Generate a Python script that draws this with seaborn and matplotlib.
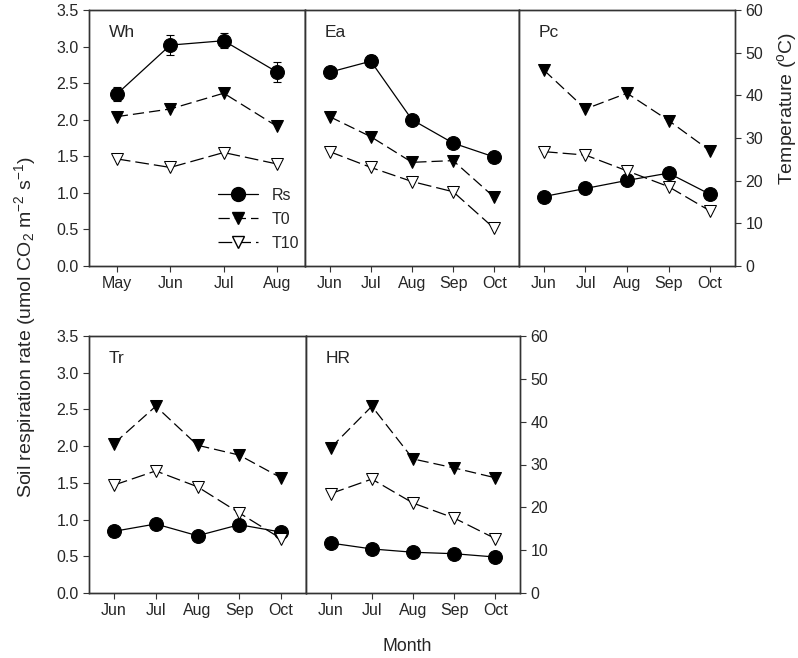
import numpy as np
import pandas as pd
import seaborn as sns
import matplotlib.pyplot as plt
from matplotlib.lines import Line2D

# data (Rs in umol CO2 m-2 s-1, temperatures in oC)
sites = ['Wh', 'Ea', 'Pc', 'Tr', 'HR']
months = {
    'Wh': ['May', 'Jun', 'Jul', 'Aug'],
    'Ea': ['Jun', 'Jul', 'Aug', 'Sep', 'Oct'],
    'Pc': ['Jun', 'Jul', 'Aug', 'Sep', 'Oct'],
    'Tr': ['Jun', 'Jul', 'Aug', 'Sep', 'Oct'],
    'HR': ['Jun', 'Jul', 'Aug', 'Sep', 'Oct'],
}
rs = {
    'Wh': [2.35, 3.02, 3.08, 2.65],
    'Ea': [2.65, 2.80, 2.00, 1.68, 1.49],
    'Pc': [0.95, 1.06, 1.17, 1.27, 0.98],
    'Tr': [0.84, 0.94, 0.78, 0.93, 0.83],
    'HR': [0.68, 0.60, 0.555, 0.535, 0.49],
}
rs_err = {
    'Wh': [0.10, 0.14, 0.10, 0.14],
    'Ea': [0.07, 0.08, 0.05, 0.03, 0.03],
    'Pc': [0.03, 0.03, 0.06, 0.03, 0.03],
    'Tr': [0.02, 0.02, 0.02, 0.03, 0.02],
    'HR': [0.02, 0.02, 0.02, 0.02, 0.05],
}
t0 = {
    'Wh': [35.0, 36.8, 40.5, 32.7],
    'Ea': [35.0, 30.3, 24.3, 24.7, 16.1],
    'Pc': [45.9, 36.8, 40.5, 34.1, 27.0],
    'Tr': [34.9, 43.6, 34.5, 32.2, 26.9],
    'HR': [33.9, 43.6, 31.3, 29.2, 26.9],
}
t10 = {
    'Wh': [25.1, 23.1, 26.6, 23.9],
    'Ea': [26.8, 23.1, 19.8, 17.4, 8.8],
    'Pc': [26.8, 26.0, 22.3, 18.6, 12.9],
    'Tr': [25.2, 28.5, 24.8, 18.7, 12.7],
    'HR': [23.2, 26.6, 21.0, 17.5, 12.7],
}

sns.set_style('ticks')
plt.rcParams['font.family'] = ['Liberation Sans', 'DejaVu Sans']
plt.rcParams['mathtext.fontset'] = 'custom'
plt.rcParams['mathtext.rm'] = 'Liberation Sans'
plt.rcParams['mathtext.it'] = 'Liberation Sans'

fig = plt.figure(figsize=(7.98, 6.58), dpi=100)

W = 798.0
H = 658.0
# panel boxes in pixels: left, right, top, bottom
boxes = {
    'Wh': (89, 305, 10, 266),
    'Ea': (305, 519, 10, 266),
    'Pc': (519, 735, 10, 266),
    'Tr': (89, 306, 336, 593),
    'HR': (306, 520, 336, 593),
}
left_axis = ['Wh', 'Tr']
right_axis = ['Pc', 'HR']

fs = 11.5
dash0 = (0, (9, 4))
dash10 = (0, (11, 4))

for site in sites:
    l, r, t, b = boxes[site]
    ax = fig.add_axes([l / W, 1 - b / H, (r - l) / W, (b - t) / H])
    ax2 = ax.twinx()
    n = len(months[site])
    x = np.arange(n)
    df = pd.DataFrame({'x': x, 'rs': rs[site], 't0': t0[site], 't10': t10[site]})

    ax.errorbar(x, rs[site], yerr=rs_err[site], fmt='none', ecolor='black',
                elinewidth=0.8, capsize=3, capthick=0.8, zorder=2)
    sns.lineplot(data=df, x='x', y='rs', ax=ax, color='black', lw=0.9,
                 marker='o', markersize=10, markeredgecolor='black', zorder=3)
    sns.lineplot(data=df, x='x', y='t0', ax=ax2, color='black', lw=0.9,
                 linestyle=dash0, marker='v', markersize=8.5,
                 markerfacecolor='black', markeredgecolor='black')
    sns.lineplot(data=df, x='x', y='t10', ax=ax2, color='black', lw=0.9,
                 linestyle=dash10, marker='v', markersize=8.5,
                 markerfacecolor='white', markeredgecolor='black')

    pad = 0.52 if n == 4 else 0.6
    ax.set_xlim(-pad, n - 1 + pad)
    ax.set_ylim(0, 3.5)
    ax2.set_ylim(0, 60)
    ax.set_xticks(x)
    ax.set_xticklabels(months[site], fontsize=fs)
    ax.set_xlabel('')
    ax.set_ylabel('')
    ax2.set_ylabel('')

    if site in left_axis:
        ax.set_yticks(np.arange(0, 3.51, 0.5))
        ax.set_yticklabels([f'{v:.1f}' for v in np.arange(0, 3.51, 0.5)], fontsize=fs)
    else:
        ax.set_yticks([])
    if site in right_axis:
        ax2.set_yticks(np.arange(0, 61, 10))
        ax2.set_yticklabels([str(v) for v in range(0, 61, 10)], fontsize=fs)
    else:
        ax2.set_yticks([])

    for a in (ax, ax2):
        for sp in a.spines.values():
            sp.set_visible(True)
            sp.set_color('#333333')
            sp.set_linewidth(1.0)
        a.tick_params(direction='out', length=4, width=0.8, color='#333333')

    ax.text(0.09, 0.94, site, transform=ax.transAxes, fontsize=12.5,
            ha='left', va='top')

    if site == 'Wh':
        handles = [
            Line2D([], [], color='black', lw=0.9, marker='o', markersize=10),
            Line2D([], [], color='black', lw=0.9, linestyle=dash0, marker='v',
                   markersize=8.5, markerfacecolor='black'),
            Line2D([], [], color='black', lw=0.9, linestyle=dash10, marker='v',
                   markersize=8.5, markerfacecolor='white'),
        ]
        ax.legend(handles, ['Rs', 'T0', 'T10'], loc='lower right', frameon=False,
                  fontsize=11.5, handlelength=2.5, handletextpad=0.9,
                  labelspacing=0.55, borderpad=0, borderaxespad=0,
                  bbox_to_anchor=(0.975, 0.06))

fig.text(0.031, 0.503, 'Soil respiration rate (umol CO$_2$ m$^{-2}$ s$^{-1}$)',
         rotation=90, ha='center', va='center', fontsize=14)
fig.text(0.986, 0.836, 'Temperature ($^{\\mathrm{o}}$C)', rotation=90,
         ha='center', va='center', fontsize=14)
fig.text(0.51, 0.018, 'Month', ha='center', va='center', fontsize=12.8)

fig.savefig('out.png', dpi=100)
